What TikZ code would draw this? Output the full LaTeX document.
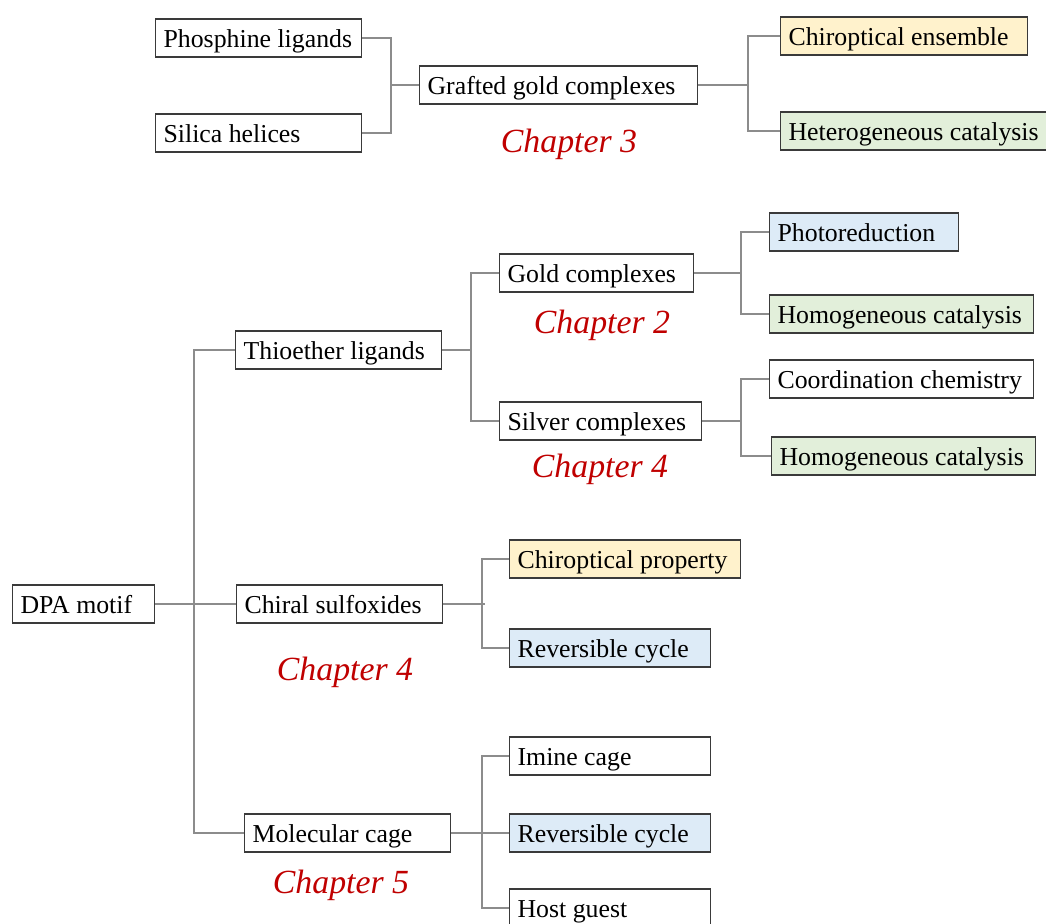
\documentclass[tikz,border=0pt]{standalone}
\usepackage{fontspec}
\setmainfont{Liberation Serif}
\definecolor{boxline}{HTML}{3A3A3A}
\definecolor{connline}{HTML}{8C8C8C}
\definecolor{orangefill}{HTML}{FFF2CC}
\definecolor{greenfill}{HTML}{E2EFDA}
\definecolor{bluefill}{HTML}{DDEBF7}
\definecolor{chapred}{HTML}{C00000}
\newcommand{\bxt}[2]{\makebox[#1pt][l]{#2}}
\begin{document}
\begin{tikzpicture}[x=1pt,y=-1pt,
  box/.style={draw=boxline, line width=1.2pt, rectangle, anchor=west,
    inner xsep=8pt, inner ysep=0pt, minimum height=38pt,
    text height=18.5pt, text depth=0pt,
    font=\fontsize{25.8}{30}\selectfont},
  orangebox/.style={box, fill=orangefill},
  greenbox/.style={box, fill=greenfill},
  bluebox/.style={box, fill=bluefill},
  conn/.style={draw=connline, line width=1.1pt},
  chap/.style={text=chapred, anchor=base, inner sep=0pt,
    font=\fontsize{33.8}{40}\selectfont\itshape}]
\clip (0,0) rectangle (1046,923);
\fill[white] (0,0) rectangle (1046,923);

% ---- top section ----
\node[box] (ph) at (155,38) {\bxt{190}{Phosphine ligands}};
\node[box] (si) at (155,133) {\bxt{190}{Silica helices}};
\node[box] (gr) at (419,85) {\bxt{262}{Grafted gold complexes}};
\node[chap] (c3) at (569,153) {Chapter 3};
\node[orangebox] (ce) at (780,36) {\bxt{231}{Chiroptical ensemble}};
\node[greenbox] (hc) at (780,131) {\bxt{250}{Heterogeneous catalysis}};

\coordinate (j1) at (391,85);
\coordinate (j2) at (748,85);
\draw[conn] (ph.east) -| (j1) |- (si.east);
\draw[conn] (j1) -- (gr.west);
\draw[conn] (gr.east) -- (j2);
\draw[conn] (ce.west) -| (j2) |- (hc.west);

% ---- lower section ----
\node[box] (dpa) at (12,604) {\bxt{126}{DPA motif}};
\node[box] (th) at (235,350) {\bxt{190}{Thioether ligands}};
\node[box] (cs) at (236,604) {\bxt{190}{Chiral sulfoxides}};
\node[box] (mc) at (244,833) {\bxt{190}{Molecular cage}};

\node[box] (go) at (499,273) {\bxt{178}{Gold complexes}};
\node[chap] (c2) at (602,333) {Chapter 2};
\node[box] (sv) at (499,421) {\bxt{186}{Silver complexes}};
\node[chap] (c4a) at (600,477) {Chapter 4};

\node[bluebox] (pr) at (769,232) {\bxt{173}{Photoreduction}};
\node[greenbox] (hg1) at (769,314) {\bxt{248}{Homogeneous catalysis}};
\node[box] (cc) at (769,379) {\bxt{248}{Coordination chemistry}};
\node[greenbox] (hg2) at (771,456) {\bxt{248}{Homogeneous catalysis}};

\node[orangebox] (cp) at (509,559) {\bxt{215}{Chiroptical property}};
\node[bluebox] (rc1) at (509,648) {\bxt{185}{Reversible cycle}};
\node[chap] (c4b) at (345,680) {Chapter 4};

\node[box] (ic) at (509,756) {\bxt{185}{Imine cage}};
\node[bluebox] (rc2) at (509,833) {\bxt{185}{Reversible cycle}};
\node[box] (hgu) at (509,908) {\bxt{185}{Host guest}};
\node[chap] (c5) at (341,893) {Chapter 5};

\coordinate (jd) at (194,604);
\coordinate (jt) at (471,350);
\coordinate (jg) at (741,273);
\coordinate (js) at (741,421);
\coordinate (jc) at (482,604);
\coordinate (jce) at (485,604);
\coordinate (jm) at (482,833);

\draw[conn] (dpa.east) -- (cs.west);
\draw[conn] (th.west) -| (jd) |- (mc.west);
\draw[conn] (th.east) -- (jt);
\draw[conn] (go.west) -| (jt) |- (sv.west);
\draw[conn] (go.east) -- (jg);
\draw[conn] (pr.west) -| (jg) |- (hg1.west);
\draw[conn] (sv.east) -- (js);
\draw[conn] (cc.west) -| (js) |- (hg2.west);
\draw[conn] (cs.east) -- (jce);
\draw[conn] (cp.west) -| (jc) |- (rc1.west);
\draw[conn] (mc.east) -- (rc2.west);
\draw[conn] (ic.west) -| (jm) |- (hgu.west);
\end{tikzpicture}
\end{document}
